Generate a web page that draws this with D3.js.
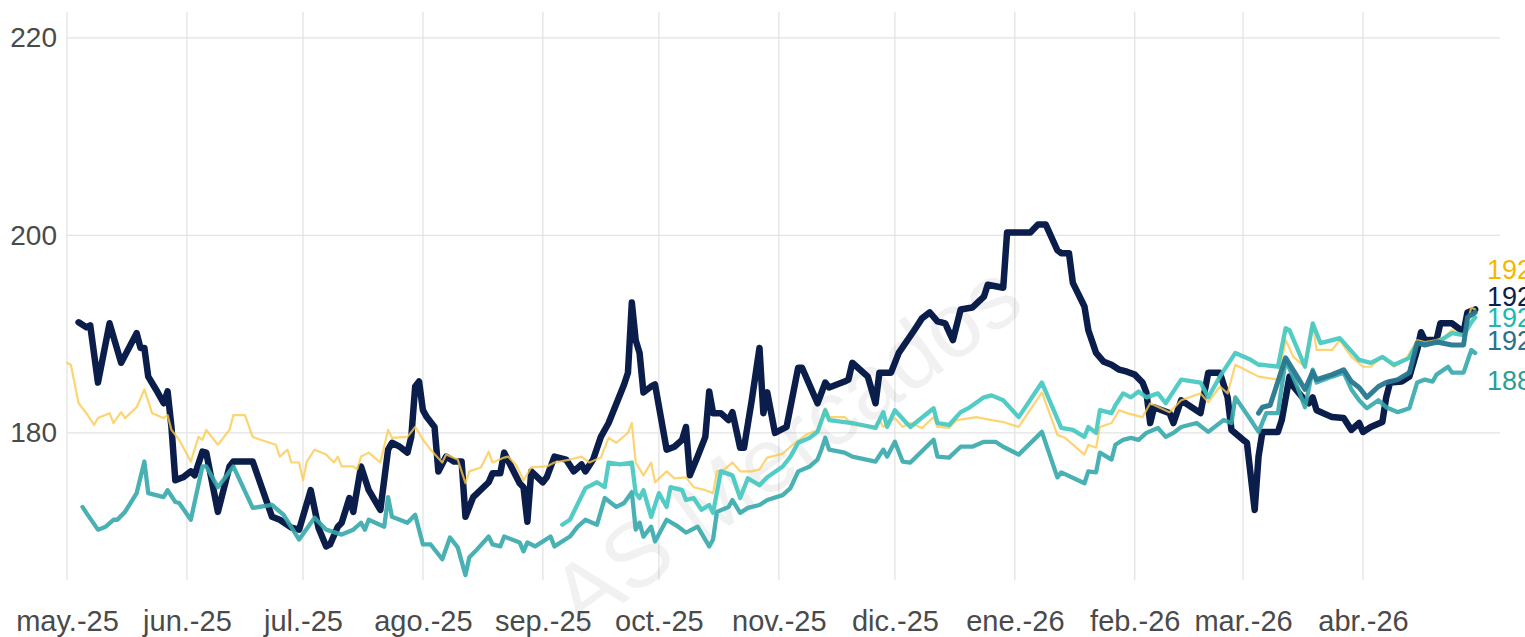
<!DOCTYPE html>
<html>
<head>
<meta charset="utf-8">
<script src="https://cdn.jsdelivr.net/npm/d3@7"></script>
<style>
  body { margin: 0; background: #fff; }
  text { font-family: "Liberation Sans", Arial, sans-serif; }
</style>
</head>
<body>
<svg id="graph" width="1525" height="637"></svg>
<script>
// month ticks
var monthTicks = ["2025-05-01","2025-06-01","2025-07-01","2025-08-01","2025-09-01","2025-10-01",
  "2025-11-01","2025-12-01","2026-01-01","2026-02-01","2026-03-01","2026-04-01"];
var monthLabels = ["may.-25","jun.-25","jul.-25","ago.-25","sep.-25","oct.-25",
  "nov.-25","dic.-25","ene.-26","feb.-26","mar.-26","abr.-26"];
var yTicks = [180, 200, 220];

// series, [date, value]
var navy = [["2025-05-04",191.2],["2025-05-06",190.7],["2025-05-07",190.9],["2025-05-09",185.1],["2025-05-12",191.1],["2025-05-15",187.1],["2025-05-19",190.1],["2025-05-20",188.6],["2025-05-21",188.6],["2025-05-22",185.7],["2025-05-24",184.4],["2025-05-26",183.0],["2025-05-27",184.2],["2025-05-28",180.6],["2025-05-29",175.2],["2025-05-31",175.5],["2025-06-02",176.1],["2025-06-03",175.7],["2025-06-05",178.1],["2025-06-06",178.0],["2025-06-09",172.0],["2025-06-12",176.6],["2025-06-13",177.1],["2025-06-18",177.1],["2025-06-23",171.5],["2025-06-25",171.2],["2025-06-28",170.4],["2025-06-30",170.2],["2025-07-03",174.2],["2025-07-05",170.4],["2025-07-07",168.5],["2025-07-08",168.7],["2025-07-10",170.5],["2025-07-11",170.9],["2025-07-13",173.4],["2025-07-14",172.0],["2025-07-16",176.6],["2025-07-18",174.2],["2025-07-21",172.2],["2025-07-23",178.3],["2025-07-24",179.0],["2025-07-26",178.6],["2025-07-28",178.0],["2025-07-29",179.6],["2025-07-30",184.7],["2025-07-31",185.2],["2025-08-01",182.3],["2025-08-02",181.6],["2025-08-04",180.6],["2025-08-05",176.1],["2025-08-07",177.6],["2025-08-09",177.1],["2025-08-11",177.1],["2025-08-12",171.5],["2025-08-14",173.5],["2025-08-18",175.0],["2025-08-19",175.9],["2025-08-21",175.9],["2025-08-22",178.0],["2025-08-26",174.9],["2025-08-27",174.5],["2025-08-28",171.0],["2025-08-29",176.1],["2025-09-01",175.0],["2025-09-02",175.5],["2025-09-04",177.6],["2025-09-07",177.3],["2025-09-09",176.1],["2025-09-11",176.8],["2025-09-12",176.1],["2025-09-14",177.3],["2025-09-16",179.6],["2025-09-18",181.0],["2025-09-22",184.9],["2025-09-23",186.1],["2025-09-24",193.2],["2025-09-25",189.4],["2025-09-26",188.1],["2025-09-27",184.1],["2025-09-29",184.7],["2025-09-30",184.9],["2025-10-03",178.3],["2025-10-05",178.6],["2025-10-07",179.3],["2025-10-08",180.6],["2025-10-09",175.7],["2025-10-11",177.6],["2025-10-13",179.6],["2025-10-14",184.2],["2025-10-15",182.0],["2025-10-17",182.0],["2025-10-19",181.3],["2025-10-20",182.1],["2025-10-22",178.5],["2025-10-23",178.5],["2025-10-25",183.3],["2025-10-27",188.6],["2025-10-28",182.0],["2025-10-29",184.1],["2025-10-31",180.0],["2025-11-03",180.6],["2025-11-06",186.6],["2025-11-07",186.6],["2025-11-11",183.0],["2025-11-13",185.1],["2025-11-14",184.6],["2025-11-18",185.2],["2025-11-19",185.4],["2025-11-20",187.1],["2025-11-24",185.7],["2025-11-26",183.0],["2025-11-27",186.1],["2025-11-30",186.1],["2025-12-02",188.1],["2025-12-06",190.4],["2025-12-08",191.6],["2025-12-10",192.2],["2025-12-12",191.3],["2025-12-14",191.1],["2025-12-16",189.4],["2025-12-18",192.5],["2025-12-21",192.7],["2025-12-24",193.8],["2025-12-25",195.0],["2025-12-29",194.7],["2025-12-30",200.3],["2026-01-05",200.3],["2026-01-07",201.1],["2026-01-09",201.1],["2026-01-12",198.5],["2026-01-13",198.2],["2026-01-15",198.2],["2026-01-16",195.2],["2026-01-19",192.8],["2026-01-20",190.4],["2026-01-22",188.1],["2026-01-24",187.2],["2026-01-26",186.9],["2026-01-28",186.4],["2026-01-30",186.2],["2026-02-01",185.9],["2026-02-03",185.1],["2026-02-04",184.1],["2026-02-05",181.0],["2026-02-06",182.6],["2026-02-08",182.3],["2026-02-10",182.0],["2026-02-11",181.0],["2026-02-13",183.3],["2026-02-18",182.0],["2026-02-20",186.1],["2026-02-23",186.1],["2026-02-25",183.6],["2026-02-26",180.3],["2026-03-01",179.3],["2026-03-02",179.0],["2026-03-04",172.2],["2026-03-05",177.6],["2026-03-06",180.1],["2026-03-10",180.1],["2026-03-11",181.3],["2026-03-13",185.7],["2026-03-14",184.7],["2026-03-17",183.3],["2026-03-18",183.0],["2026-03-19",183.6],["2026-03-20",182.3],["2026-03-24",181.6],["2026-03-27",181.5],["2026-03-29",180.3],["2026-03-31",181.0],["2026-04-01",180.1],["2026-04-03",180.6],["2026-04-06",181.1],["2026-04-07",183.6],["2026-04-08",185.1],["2026-04-11",185.2],["2026-04-13",185.7],["2026-04-15",188.4],["2026-04-16",190.2],["2026-04-17",189.4],["2026-04-20",189.4],["2026-04-21",191.1],["2026-04-24",191.1],["2026-04-27",190.2],["2026-04-28",192.2],["2026-04-30",192.5]];

var gold = [["2025-05-01",187.1],["2025-05-02",186.9],["2025-05-04",183.0],["2025-05-06",182.0],["2025-05-08",180.8],["2025-05-09",181.5],["2025-05-12",182.0],["2025-05-13",181.0],["2025-05-15",182.1],["2025-05-16",181.5],["2025-05-19",182.6],["2025-05-21",184.4],["2025-05-23",182.0],["2025-05-26",181.5],["2025-05-27",181.8],["2025-05-28",180.3],["2025-05-30",179.3],["2025-06-02",177.1],["2025-06-04",179.6],["2025-06-05",179.3],["2025-06-06",180.3],["2025-06-09",178.8],["2025-06-12",180.3],["2025-06-13",181.8],["2025-06-16",181.8],["2025-06-18",179.6],["2025-06-20",179.3],["2025-06-24",178.8],["2025-06-25",177.6],["2025-06-27",178.3],["2025-06-28",177.0],["2025-06-30",177.0],["2025-07-01",175.2],["2025-07-02",177.1],["2025-07-04",178.3],["2025-07-07",177.8],["2025-07-09",177.0],["2025-07-10",177.6],["2025-07-11",176.6],["2025-07-14",176.6],["2025-07-15",176.3],["2025-07-16",177.6],["2025-07-18",178.0],["2025-07-21",177.0],["2025-07-23",180.3],["2025-07-24",179.5],["2025-07-28",179.6],["2025-07-30",180.6],["2025-07-31",180.0],["2025-08-01",179.3],["2025-08-03",178.3],["2025-08-06",177.0],["2025-08-07",177.8],["2025-08-10",177.3],["2025-08-12",174.9],["2025-08-13",176.1],["2025-08-16",176.5],["2025-08-18",178.1],["2025-08-19",177.0],["2025-08-22",177.5],["2025-08-23",177.6],["2025-08-25",176.8],["2025-08-27",175.2],["2025-08-29",176.5],["2025-09-02",176.6],["2025-09-04",177.0],["2025-09-08",177.3],["2025-09-11",177.6],["2025-09-13",177.0],["2025-09-16",177.5],["2025-09-18",179.5],["2025-09-20",179.0],["2025-09-23",180.0],["2025-09-24",181.0],["2025-09-25",177.0],["2025-09-27",175.7],["2025-09-29",177.0],["2025-09-30",175.0],["2025-10-03",176.1],["2025-10-05",175.4],["2025-10-08",175.5],["2025-10-10",174.5],["2025-10-13",174.2],["2025-10-15",173.9],["2025-10-16",176.1],["2025-10-18",176.3],["2025-10-20",177.0],["2025-10-22",176.1],["2025-10-25",176.1],["2025-10-27",176.3],["2025-10-29",177.5],["2025-11-02",177.9],["2025-11-04",178.6],["2025-11-08",179.8],["2025-11-11",180.3],["2025-11-13",182.5],["2025-11-14",181.6],["2025-11-18",181.6],["2025-11-20",180.8],["2025-11-26",180.6],["2025-11-27",181.3],["2025-11-28",180.6],["2025-12-01",181.5],["2025-12-03",180.6],["2025-12-05",181.0],["2025-12-08",180.5],["2025-12-11",181.6],["2025-12-12",180.6],["2025-12-15",180.5],["2025-12-17",181.3],["2025-12-22",181.6],["2025-12-26",181.3],["2025-12-29",181.1],["2026-01-02",180.6],["2026-01-08",184.1],["2026-01-12",179.8],["2026-01-14",179.5],["2026-01-19",177.8],["2026-01-20",178.8],["2026-01-22",178.5],["2026-01-23",180.6],["2026-01-26",181.0],["2026-01-28",182.3],["2026-01-30",182.0],["2026-02-03",181.6],["2026-02-04",182.3],["2026-02-05",183.0],["2026-02-10",182.1],["2026-02-13",183.3],["2026-02-18",184.0],["2026-02-20",183.1],["2026-02-23",184.7],["2026-02-25",184.0],["2026-02-27",186.9],["2026-03-05",185.7],["2026-03-10",185.4],["2026-03-12",189.4],["2026-03-14",187.7],["2026-03-17",186.7],["2026-03-19",191.1],["2026-03-20",188.4],["2026-03-24",188.4],["2026-03-26",189.4],["2026-03-29",187.7],["2026-04-01",186.7],["2026-04-03",186.7],["2026-04-06",187.7],["2026-04-09",186.7],["2026-04-12",187.4],["2026-04-15",189.4],["2026-04-17",189.2],["2026-04-20",189.4],["2026-04-22",189.7],["2026-04-24",190.4],["2026-04-27",189.9],["2026-04-29",192.7],["2026-04-30",192.5]];

var turquoise = [["2025-09-06",170.7],["2025-09-08",171.2],["2025-09-12",174.4],["2025-09-15",175.0],["2025-09-17",174.5],["2025-09-18",177.0],["2025-09-21",176.8],["2025-09-24",177.0],["2025-09-25",173.9],["2025-09-26",173.4],["2025-09-27",174.2],["2025-09-29",171.5],["2025-10-01",173.9],["2025-10-03",172.5],["2025-10-04",174.5],["2025-10-07",174.2],["2025-10-08",173.2],["2025-10-10",173.4],["2025-10-12",172.2],["2025-10-14",172.7],["2025-10-15",171.9],["2025-10-17",176.1],["2025-10-20",175.7],["2025-10-22",173.4],["2025-10-24",175.4],["2025-10-27",174.7],["2025-10-29",175.5],["2025-11-02",176.6],["2025-11-04",177.6],["2025-11-06",179.0],["2025-11-09",179.5],["2025-11-11",180.1],["2025-11-13",182.3],["2025-11-14",181.3],["2025-11-20",181.0],["2025-11-26",180.5],["2025-11-28",182.1],["2025-11-29",180.6],["2025-12-01",182.3],["2025-12-04",181.0],["2025-12-05",180.6],["2025-12-11",182.5],["2025-12-12",181.0],["2025-12-15",180.8],["2025-12-18",182.1],["2025-12-20",182.5],["2025-12-24",183.6],["2025-12-26",183.8],["2025-12-29",183.3],["2026-01-02",181.6],["2026-01-08",185.1],["2026-01-13",180.5],["2026-01-16",180.3],["2026-01-19",179.6],["2026-01-20",180.6],["2026-01-22",180.0],["2026-01-23",182.3],["2026-01-26",182.0],["2026-01-27",182.8],["2026-01-29",184.0],["2026-01-31",183.6],["2026-02-02",184.2],["2026-02-04",183.6],["2026-02-07",184.0],["2026-02-09",183.0],["2026-02-13",185.4],["2026-02-18",185.1],["2026-02-20",183.6],["2026-02-23",185.7],["2026-02-27",188.1],["2026-03-03",187.4],["2026-03-05",186.9],["2026-03-06",186.9],["2026-03-10",186.7],["2026-03-12",190.6],["2026-03-13",190.4],["2026-03-17",186.7],["2026-03-19",191.1],["2026-03-21",189.1],["2026-03-26",189.6],["2026-03-31",187.4],["2026-04-03",187.1],["2026-04-06",187.7],["2026-04-09",186.9],["2026-04-13",187.6],["2026-04-15",189.1],["2026-04-20",189.1],["2026-04-22",189.6],["2026-04-24",190.1],["2026-04-27",189.9],["2026-04-29",191.2],["2026-04-30",191.7]];

var teal = [["2025-05-05",172.5],["2025-05-06",171.9],["2025-05-09",170.2],["2025-05-11",170.5],["2025-05-13",171.2],["2025-05-14",171.2],["2025-05-16",172.0],["2025-05-19",173.9],["2025-05-21",177.1],["2025-05-22",173.9],["2025-05-26",173.5],["2025-05-27",174.2],["2025-05-29",173.0],["2025-05-30",172.9],["2025-06-02",171.2],["2025-06-05",176.6],["2025-06-06",176.6],["2025-06-09",174.5],["2025-06-13",176.6],["2025-06-18",172.4],["2025-06-23",172.7],["2025-06-26",171.7],["2025-06-30",169.2],["2025-07-04",171.4],["2025-07-07",170.2],["2025-07-11",169.7],["2025-07-14",170.2],["2025-07-16",170.9],["2025-07-17",170.2],["2025-07-18",171.2],["2025-07-22",170.5],["2025-07-23",173.5],["2025-07-24",171.5],["2025-07-28",170.9],["2025-07-30",171.7],["2025-08-01",168.7],["2025-08-03",168.7],["2025-08-06",167.2],["2025-08-08",169.4],["2025-08-10",168.4],["2025-08-12",165.6],["2025-08-13",167.4],["2025-08-15",168.2],["2025-08-18",169.5],["2025-08-19",168.7],["2025-08-21",168.5],["2025-08-22",169.5],["2025-08-26",168.9],["2025-08-27",168.0],["2025-08-28",168.9],["2025-08-30",168.5],["2025-09-03",169.5],["2025-09-04",168.5],["2025-09-08",169.5],["2025-09-10",170.5],["2025-09-12",171.2],["2025-09-15",170.7],["2025-09-17",173.4],["2025-09-20",172.5],["2025-09-22",172.9],["2025-09-24",174.0],["2025-09-25",170.2],["2025-09-26",170.9],["2025-09-27",169.5],["2025-09-29",170.5],["2025-09-30",169.0],["2025-10-03",171.2],["2025-10-06",170.5],["2025-10-08",169.9],["2025-10-11",170.5],["2025-10-14",168.5],["2025-10-15",169.2],["2025-10-16",172.0],["2025-10-19",172.5],["2025-10-20",173.2],["2025-10-22",171.9],["2025-10-24",172.4],["2025-10-27",172.7],["2025-10-29",173.2],["2025-11-02",173.7],["2025-11-04",174.4],["2025-11-06",176.1],["2025-11-09",176.6],["2025-11-11",177.3],["2025-11-12",178.3],["2025-11-13",179.5],["2025-11-14",178.3],["2025-11-18",178.0],["2025-11-20",177.6],["2025-11-26",177.1],["2025-11-28",178.3],["2025-11-29",177.6],["2025-12-01",179.1],["2025-12-03",177.1],["2025-12-05",177.0],["2025-12-11",179.3],["2025-12-12",177.6],["2025-12-15",177.5],["2025-12-18",178.6],["2025-12-21",178.6],["2025-12-24",179.1],["2025-12-27",179.1],["2025-12-29",178.6],["2026-01-02",177.8],["2026-01-08",180.1],["2026-01-12",175.5],["2026-01-13",176.0],["2026-01-19",174.9],["2026-01-20",176.1],["2026-01-22",176.0],["2026-01-23",178.0],["2026-01-26",177.3],["2026-01-27",178.8],["2026-01-29",179.3],["2026-01-31",179.5],["2026-02-02",179.3],["2026-02-04",180.0],["2026-02-07",180.5],["2026-02-09",179.6],["2026-02-11",180.0],["2026-02-13",180.6],["2026-02-17",181.0],["2026-02-20",180.1],["2026-02-24",181.3],["2026-02-26",181.0],["2026-02-27",183.6],["2026-03-03",181.3],["2026-03-05",180.1],["2026-03-07",182.0],["2026-03-10",182.0],["2026-03-12",187.4],["2026-03-15",184.7],["2026-03-17",182.6],["2026-03-19",186.4],["2026-03-20",185.1],["2026-03-24",185.7],["2026-03-27",186.1],["2026-03-29",184.4],["2026-03-31",183.3],["2026-04-02",182.5],["2026-04-05",183.3],["2026-04-07",182.6],["2026-04-10",182.1],["2026-04-13",182.5],["2026-04-15",185.1],["2026-04-17",185.4],["2026-04-19",185.2],["2026-04-20",185.9],["2026-04-23",186.7],["2026-04-24",186.1],["2026-04-27",186.1],["2026-04-29",188.4],["2026-04-30",188.1]];

var darkTeal = [["2026-03-05",182.0],["2026-03-06",182.6],["2026-03-08",182.8],["2026-03-12",187.6],["2026-03-15",185.7],["2026-03-17",184.4],["2026-03-19",186.2],["2026-03-20",185.4],["2026-03-24",185.9],["2026-03-27",186.4],["2026-03-29",185.2],["2026-03-31",184.6],["2026-04-02",183.6],["2026-04-05",184.7],["2026-04-07",185.1],["2026-04-10",185.4],["2026-04-13",186.1],["2026-04-15",189.1],["2026-04-17",188.9],["2026-04-20",189.2],["2026-04-24",188.9],["2026-04-27",188.9],["2026-04-28",191.7],["2026-04-30",192.2]];

// end labels (text, where the label sits in value units after spreading)
var endLabels = ["192", "192", "192", "192", "188"];
var endLabelPos = [196.5, 193.8, 191.6, 189.3, 185.3];

var series = [
  {data: navy, color: "#0b1d4b", label: "#0b1d4b", width: 6.5, op: 1},
  {data: gold, color: "#fcc94f", label: "#f6b700", width: 2.2, op: 0.8},
  {data: teal, color: "#35a8ab", label: "#2a9d9b", width: 4.3, op: 0.9},
  {data: turquoise, color: "#40c6c0", label: "#1db9b1", width: 4.3, op: 0.9},
  {data: darkTeal, color: "#27788f", label: "#2b718c", width: 5, op: 0.95}
];
var labelOrder = [1, 0, 3, 4, 2]; // gold, navy, turquoise, dark teal, teal

var parse = d3.utcParse("%Y-%m-%d");
var svg = d3.select("#graph");

var x = d3.scaleUtc()
  .domain([parse("2025-05-01"), parse("2026-04-01")])
  .range([67, 1363]);
var y = d3.scaleLinear()
  .domain([165.1, 222.63])
  .range([580, 12]);
var right = 1500;

// grid
svg.append("g").selectAll("line.v")
  .data(monthTicks).enter().append("line")
  .attr("x1", function(d){ return x(parse(d)); })
  .attr("x2", function(d){ return x(parse(d)); })
  .attr("y1", 12).attr("y2", 580)
  .attr("stroke", "#e3e3e3").attr("stroke-width", 1.3);
svg.append("g").selectAll("line.h")
  .data(yTicks).enter().append("line")
  .attr("x1", 67).attr("x2", right)
  .attr("y1", function(d){ return y(d); })
  .attr("y2", function(d){ return y(d); })
  .attr("stroke", "#e3e3e3").attr("stroke-width", 1.3);

// watermark
svg.append("text")
  .attr("transform", "translate(790,452) rotate(-36)")
  .attr("text-anchor", "middle")
  .attr("dominant-baseline", "middle")
  .style("font-size", "92px")
  .attr("fill", "#000").attr("fill-opacity", 0.055)
  .text("AS Mercados");

// axes
var xAxis = d3.axisBottom(x)
  .tickValues(monthTicks.map(parse))
  .tickFormat(function(d, i){ return monthLabels[i]; })
  .tickSize(0).tickPadding(30);
svg.append("g").attr("transform", "translate(0,580)").call(xAxis)
  .call(function(g){ g.select(".domain").remove(); })
  .selectAll("text").style("font-size", "29px").attr("fill", "#4a4a4a")
  .style("font-family", "Liberation Sans, Arial, sans-serif");

var yAxis = d3.axisLeft(y).tickValues(yTicks).tickSize(0).tickPadding(10);
svg.append("g").attr("transform", "translate(67,0)").call(yAxis)
  .call(function(g){ g.select(".domain").remove(); })
  .selectAll("text").style("font-size", "28px").attr("fill", "#4a4a4a")
  .style("font-family", "Liberation Sans, Arial, sans-serif");

// lines
var line = d3.line()
  .x(function(d){ return x(parse(d[0])); })
  .y(function(d){ return y(d[1]); });

svg.append("g").selectAll("path")
  .data(series).enter().append("path")
  .attr("d", function(s){ return line(s.data); })
  .attr("fill", "none")
  .attr("stroke", function(s){ return s.color; })
  .attr("stroke-width", function(s){ return s.width; })
  .attr("stroke-opacity", function(s){ return s.op; })
  .attr("stroke-linejoin", "round")
  .attr("stroke-linecap", "round");

// end labels
svg.append("g").selectAll("text")
  .data(labelOrder).enter().append("text")
  .attr("x", 1487)
  .attr("y", function(d, i){ return y(endLabelPos[i]); })
  .attr("dominant-baseline", "central")
  .style("font-size", "27px")
  .attr("fill", function(d){ return series[d].label; })
  .text(function(d, i){ return endLabels[i]; });
</script>
</body>
</html>
